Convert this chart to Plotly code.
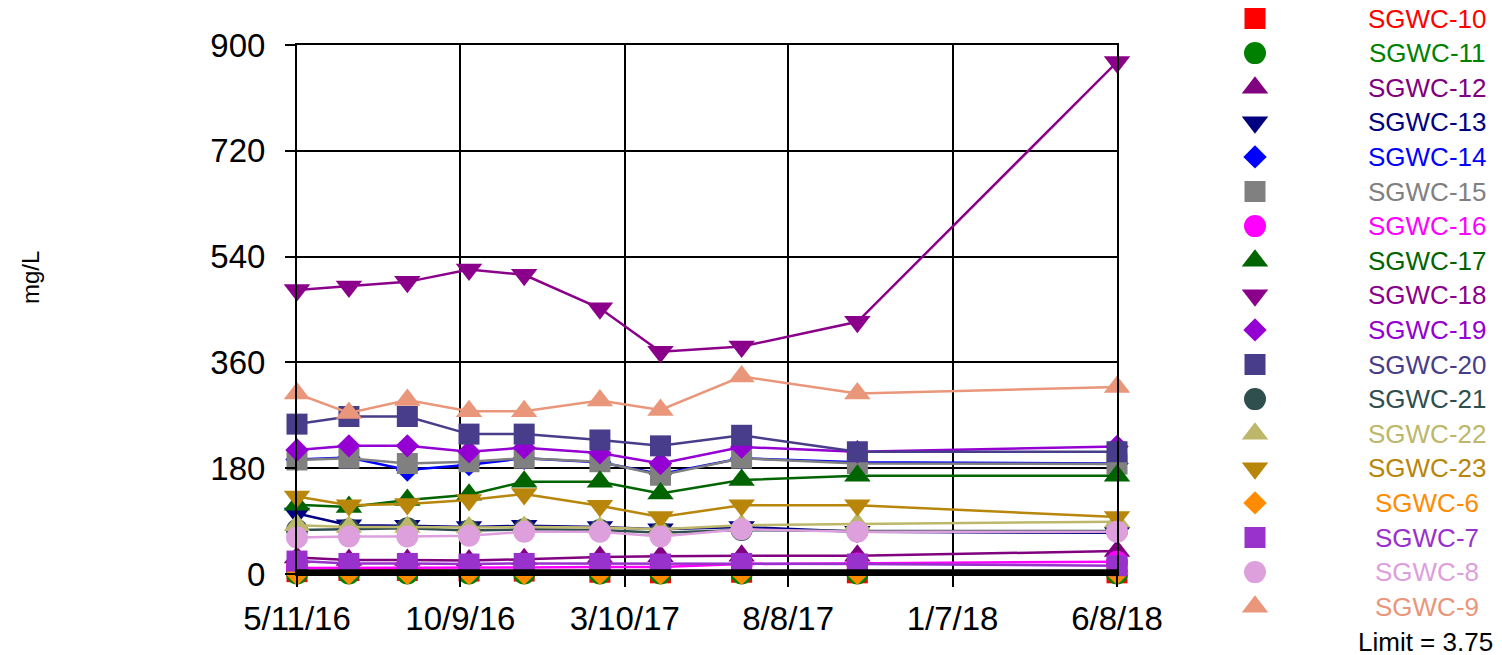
import plotly.graph_objects as go

# ---------------- data ----------------
dates = ['2016-05-11', '2016-06-28', '2016-08-21', '2016-10-17', '2016-12-07',
         '2017-02-15', '2017-04-12', '2017-06-26', '2017-10-11', '2018-06-08']

sgwc_10 = [4, 6, 6, 5, 5, 3, 2, 3, 2, 2]
sgwc_11 = [1, 1, 1, 1, 1, 1, 1, 1, 1, 1]
sgwc_12 = [28, 24, 24, 23, 25, 29, 30, 31, 31, 39]
sgwc_13 = [103, 83, 82, 80, 82, 80, 76, 80, 72, 70]
sgwc_14 = [195, 198, 177, 186, 197, 190, 170, 197, 190, 188]
sgwc_15 = [194, 197, 188, 191, 197, 191, 168, 197, 188, 187]
sgwc_16 = [10, 10, 10, 10, 11, 12, 12, 17, 18, 21]
sgwc_17 = [118, 114, 126, 135, 157, 157, 137, 160, 167, 167]
sgwc_18 = [483, 489, 497, 518, 509, 452, 378, 387, 429, 871]
sgwc_19 = [211, 218, 218, 208, 215, 206, 188, 216, 208, 217]
sgwc_20 = [255, 268, 268, 238, 238, 228, 218, 236, 208, 208]
sgwc_21 = [75, 76, 78, 74, 76, 75, 70, 75, 73, 73]
sgwc_22 = [83, 80, 80, 79, 80, 79, 76, 83, 85, 89]
sgwc_23 = [132, 117, 119, 126, 136, 116, 97, 117, 117, 97]
sgwc_6 = [0, 1, 1, 1, 1, 1, 1, 1, 1, 1]
sgwc_7 = [22, 18, 18, 17, 18, 18, 17, 18, 17, 14]
sgwc_8 = [62, 64, 64, 65, 72, 72, 64, 76, 72, 72]
sgwc_9 = [307, 274, 296, 277, 277, 295, 279, 336, 307, 318]

limit_value = 3.75
limit_label = 'Limit = 3.75'

y_ticks = [0, 180, 360, 540, 720, 900]
x_ticks = ['2016-05-11', '2016-10-09', '2017-03-10', '2017-08-08', '2018-01-07', '2018-06-08']

series_names = ['SGWC-10', 'SGWC-11', 'SGWC-12', 'SGWC-13', 'SGWC-14', 'SGWC-15',
                'SGWC-16', 'SGWC-17', 'SGWC-18', 'SGWC-19', 'SGWC-20', 'SGWC-21',
                'SGWC-22', 'SGWC-23', 'SGWC-6', 'SGWC-7', 'SGWC-8', 'SGWC-9']
series_values = [sgwc_10, sgwc_11, sgwc_12, sgwc_13, sgwc_14, sgwc_15, sgwc_16,
                 sgwc_17, sgwc_18, sgwc_19, sgwc_20, sgwc_21, sgwc_22, sgwc_23,
                 sgwc_6, sgwc_7, sgwc_8, sgwc_9]

# ---------------- styles ----------------
colors = ['#FF0000', '#008000', '#800080', '#000080', '#0000FF', '#808080',
          '#FF00FF', '#006400', '#8B008B', '#9400D3', '#483D8B', '#2F4F4F',
          '#BDB76B', '#B8860B', '#FF8C00', '#9932CC', '#DDA0DD', '#E9967A']
symbols = ['square', 'circle', 'triangle-up', 'triangle-down', 'diamond', 'square',
           'circle', 'triangle-up', 'triangle-down', 'diamond', 'square', 'circle',
           'triangle-up', 'triangle-down', 'diamond', 'square', 'circle', 'triangle-up']
size_by_symbol = {'square': 21, 'circle': 22, 'triangle-up': 23,
                  'triangle-down': 23, 'diamond': 18}

FONT = 'Liberation Sans, Arial, sans-serif'
W, H = 1502, 655
OFF = 8  # page body margin: the figure is drawn 8px in from the top-left corner
# target positions in screenshot pixels
PLOT_L, PLOT_R, PLOT_T, PLOT_B = 297 - OFF, 1117 - OFF, 45 - OFF, 574 - OFF

fig = go.Figure()

for name, vals, col, sym in zip(series_names, series_values, colors, symbols):
    fig.add_trace(go.Scatter(
        x=dates, y=vals, name=name, mode='lines+markers',
        line=dict(color=col, width=2.5),
        marker=dict(symbol=sym, size=size_by_symbol[sym], color=col, line=dict(width=0)),
        cliponaxis=False, showlegend=False))

fig.add_trace(go.Scatter(
    x=[dates[0], dates[-1]], y=[limit_value, limit_value], mode='lines',
    line=dict(color='black', width=5), showlegend=False, cliponaxis=False))

# ---------------- manual legend (in its own hidden pixel axes) ----------------
KEY_X, TEXT_X, ROW0, ROW_H = 1255 - OFF, 1427 - OFF, 18.5 - OFF, 34.6
for i, (name, col, sym) in enumerate(zip(series_names, colors, symbols)):
    yy = ROW0 + i * ROW_H
    fig.add_trace(go.Scatter(
        x=[KEY_X], y=[yy], mode='markers', xaxis='x2', yaxis='y2',
        marker=dict(symbol=sym, size=size_by_symbol[sym], color=col, line=dict(width=0)),
        showlegend=False, hoverinfo='skip', cliponaxis=False))
    fig.add_annotation(x=TEXT_X, y=yy, xref='x2', yref='y2', text=name,
                       showarrow=False, xanchor='center', yanchor='middle',
                       borderpad=0,
                       font=dict(family=FONT, size=26, color=col))
fig.add_annotation(x=TEXT_X - 2, y=ROW0 + len(series_names) * ROW_H + 0.5, xref='x2', yref='y2',
                   text=limit_label, showarrow=False, xanchor='center', yanchor='middle',
                   borderpad=0,
                   font=dict(family=FONT, size=26, color='black'))

fig.add_annotation(x=30 - OFF, y=278 - OFF, xref='x2', yref='y2', text='mg/L', textangle=-90,
                   showarrow=False, xanchor='center', yanchor='middle',
                   font=dict(family=FONT, size=24, color='black'))

axis_common = dict(showgrid=True, gridcolor='black', gridwidth=2,
                   zeroline=False, showline=True, linecolor='black', linewidth=2,
                   mirror=True, automargin=False,
                   ticks='outside', tickwidth=2, tickcolor='black',
                   tickfont=dict(family=FONT, size=33, color='black'))

fig.update_layout(
    width=W, height=H,
    margin=dict(l=0, r=0, t=0, b=0, pad=0, autoexpand=False),
    paper_bgcolor='white', plot_bgcolor='rgba(0,0,0,0)',
    font=dict(family=FONT, color='black'),
    xaxis=dict(
        domain=[PLOT_L / W, PLOT_R / W], type='date',
        range=[x_ticks[0], x_ticks[-1]],
        tickvals=x_ticks, tickformat='%-m/%-d/%y', ticklen=11,
        ticklabelstandoff=3,
        **axis_common),
    yaxis=dict(
        domain=[(H - PLOT_B) / H, (H - PLOT_T) / H],
        range=[0, 900], tickvals=y_ticks, ticklen=10,
        ticklabelstandoff=13,
        **axis_common),
    xaxis2=dict(domain=[0, 1], range=[0, W], visible=False, anchor='y2',
                fixedrange=True, automargin=False),
    yaxis2=dict(domain=[0, 1], range=[H, 0], visible=False, anchor='x2',
                fixedrange=True, automargin=False),
)

fig.write_html('out.html')
